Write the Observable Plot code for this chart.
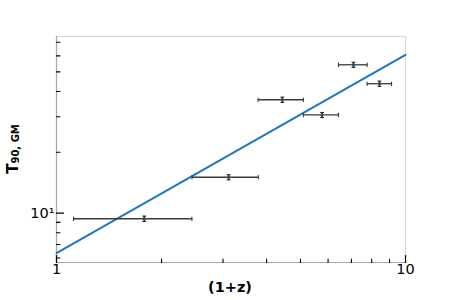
<!DOCTYPE html>
<html><head><meta charset="utf-8">
<script src="https://cdn.jsdelivr.net/npm/d3@7"></script>
<script src="https://cdn.jsdelivr.net/npm/@observablehq/plot@0.6"></script>
<style>body{margin:0;background:#fff;}</style>
</head><body><div id="chart"></div>
<script>
// Data (1+z bins, T90 values)
const xCenter = [1.784, 3.113, 4.437, 5.768, 7.093, 8.423];
const xLow    = [1.119, 2.444, 3.780, 5.098, 6.426, 7.760];
const xHigh   = [2.444, 3.787, 5.098, 6.426, 7.766, 9.120];
const yValue  = [9.38, 15.05, 36.4, 30.6, 54.2, 43.7];
const yLow    = [9.10, 14.60, 35.3, 29.7, 52.6, 42.4];
const yHigh   = [9.67, 15.50, 37.5, 31.5, 55.8, 45.0];
// fitted power-law line endpoints
const fitX = [1, 10];
const fitY = [6.35, 60.7];
// ticks
const xMajor = [1, 10];
const xMinor = [2, 3, 4, 5, 6, 7, 8, 9];
const yMajor = [10];
const yMinor = [6, 7, 8, 9, 20, 30, 40, 50, 60, 70];
const xDomain = [1, 10];
const yDomain = [5.7, 74.8];

const pts = xCenter.map((x, i) => ({x, lo: xLow[i], hi: xHigh[i], y: yValue[i], ylo: yLow[i], yhi: yHigh[i]}));
const fit = fitX.map((x, i) => ({x, y: fitY[i]}));

const cap = {draw(ctx, l) { ctx.moveTo(0, -l / 2); ctx.lineTo(0, l / 2); }};
const tick = {draw(ctx, l) { ctx.moveTo(0, 0); ctx.lineTo(0, -l); }};

const chart = Plot.plot({
  width: 450, height: 300,
  marginLeft: 56, marginRight: 45, marginTop: 36, marginBottom: 38,
  style: {fontFamily: "DejaVu Sans", fontSize: "14.5px", background: "#fff", color: "#000"},
  x: {type: "log", domain: xDomain},
  y: {type: "log", domain: yDomain},
  marks: [
    Plot.frame({stroke: "#d9d9d9", strokeWidth: 1.2}),
    Plot.ruleX([xDomain[0]], {stroke: "#a8a8a8", strokeWidth: 1.2}),
    Plot.ruleY([yDomain[0]], {stroke: "#a8a8a8", strokeWidth: 1.2}),
    Plot.line(fit, {x: "x", y: "y", stroke: "#1f77b4", strokeWidth: 2}),
    Plot.link(pts, {x1: "lo", x2: "hi", y1: "y", y2: "y", stroke: "#3a3a3a", strokeWidth: 1.3}),
    Plot.vector(pts, {x: "lo", y: "y", length: 3.5, anchor: "start", shape: cap, stroke: "#3a3a3a", strokeWidth: 1.1}),
    Plot.vector(pts, {x: "hi", y: "y", length: 3.5, anchor: "start", shape: cap, stroke: "#3a3a3a", strokeWidth: 1.1}),
    Plot.link(pts, {x1: "x", x2: "x", y1: "ylo", y2: "yhi", stroke: "#1a1a1a", strokeWidth: 1.5}),
    Plot.vector(pts, {x: "x", y: "ylo", length: 3, anchor: "start", rotate: 90, shape: cap, stroke: "#1a1a1a", strokeWidth: 1}),
    Plot.vector(pts, {x: "x", y: "yhi", length: 3, anchor: "start", rotate: 90, shape: cap, stroke: "#1a1a1a", strokeWidth: 1}),
    Plot.dot(pts, {x: "x", y: "y", r: 1.5, fill: "#1f4e79"}),
    // inward ticks
    Plot.vector(xMajor, {x: d => d, y: yDomain[0], length: 7, anchor: "start", shape: tick, stroke: "#000", strokeWidth: 1.2}),
    Plot.vector(xMinor, {x: d => d, y: yDomain[0], length: 3.5, anchor: "start", shape: tick, stroke: "#000", strokeWidth: 1.1}),
    Plot.vector(yMajor, {x: xDomain[0], y: d => d, length: 7, anchor: "start", rotate: 90, shape: tick, stroke: "#000", strokeWidth: 1.2}),
    Plot.vector(yMinor, {x: xDomain[0], y: d => d, length: 3.5, anchor: "start", rotate: 90, shape: tick, stroke: "#000", strokeWidth: 1.1}),
    // tick labels
    Plot.axisX(xMajor, {tickSize: 0, tickPadding: 1, tickFormat: d => String(d), label: null}),
    Plot.axisY(yMajor, {tickSize: 0, tickPadding: 2, tickFormat: d => "10¹", label: null})
  ]
});

const svg = d3.select(chart);
svg.append("text")
  .attr("x", 230).attr("y", 292)
  .attr("text-anchor", "middle")
  .attr("font-family", "DejaVu Sans").attr("font-weight", "bold").attr("font-size", 14.5)
  .text("(1+z)");
const yl = svg.append("text")
  .attr("transform", "translate(18,149) rotate(-90)")
  .attr("text-anchor", "middle")
  .attr("font-family", "DejaVu Sans").attr("font-weight", "bold").attr("font-size", 15);
yl.append("tspan").text("T");
yl.append("tspan").attr("font-size", 10).attr("dy", 1).text("90, GM");

document.getElementById("chart").appendChild(chart);
</script>
</body></html>
